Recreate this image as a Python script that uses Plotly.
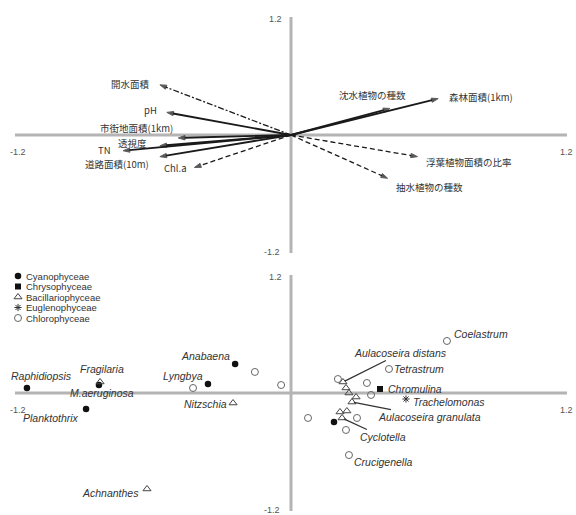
import plotly.graph_objects as go

# ---------------- environmental vectors (upper ordination) ----------------
env_names = ["開水面積", "pH", "市街地面積(1km)", "透視度", "TN", "道路面積(10m)", "Chl.a",
             "沈水植物の種数", "森林面積(1km)", "浮葉植物面積の比率", "抽水植物の種数"]
env_x = [-0.57, -0.54, -0.49, -0.57, -0.73, -0.57, -0.42, 0.43, 0.64, 0.55, 0.42]
env_y = [0.51, 0.23, -0.03, -0.11, -0.16, -0.22, -0.33, 0.27, 0.37, -0.22, -0.44]

# ---------------- phytoplankton taxa (lower ordination) ----------------
classes = ["Cyanophyceae", "Chrysophyceae", "Bacillariophyceae", "Euglenophyceae", "Chlorophyceae"]
taxa = ["Raphidiopsis", "M.aeruginosa", "Planktothrix", "Anabaena", "Lyngbya", "",
        "Chromulina",
        "Fragilaria", "Nitzschia", "Achnanthes", "Aulacoseira distans", "Aulacoseira granulata",
        "Cyclotella", "", "", "", "", "",
        "Trachelomonas",
        "Coelastrum", "Tetrastrum", "Crucigenella", "", "", "", "", "", "", "", "", ""]
taxon_class = (["Cyanophyceae"] * 6 + ["Chrysophyceae"] + ["Bacillariophyceae"] * 11
               + ["Euglenophyceae"] + ["Chlorophyceae"] * 12)
taxon_x = [-1.148, -0.835, -0.891, -0.243, -0.361, 0.187,
           0.387,
           -0.830, -0.252, -0.626, 0.226, 0.265, 0.222, 0.239, 0.252, 0.283, 0.213, 0.243,
           0.500,
           0.678, 0.426, 0.252, -0.426, -0.157, -0.043, 0.204, 0.330, 0.348, 0.074, 0.287, 0.239]
taxon_y = [0.051, 0.081, -0.163, 0.295, 0.092, -0.295,
           0.041,
           0.112, -0.102, -0.976, 0.112, -0.092, -0.254, 0.051, 0.000, -0.041, -0.193, -0.183,
           -0.061,
           0.529, 0.244, -0.631, 0.051, 0.214, 0.081, 0.142, 0.102, -0.020, -0.254, -0.254, -0.376]

AXIS_LIMIT = 1.2
tick_text = "1.2"
neg_tick_text = "-1.2"

# ---------------- styling ----------------
JP_FONT = "Noto Sans CJK JP"
LAT_FONT = "Liberation Sans"
AXIS_COLOR = "#b4b4b4"
TEXT_COLOR = "#333333"

env_dash = {"開水面積": "6px,2px,2px,2px", "Chl.a": "5px,3px",
            "浮葉植物面積の比率": "5px,3px", "抽水植物の種数": "5px,3px"}
# label placement: (xanchor, xshift px, yshift px)
env_label = {
    "開水面積": ("right", -8, 1), "pH": ("right", -8, 2),
    "市街地面積(1km)": ("right", -3, 10), "透視度": ("right", -11, 3),
    "TN": ("right", -10, 1), "道路面積(10m)": ("right", -9, -7),
    "Chl.a": ("right", -5, -1), "沈水植物の種数": ("center", -17, 13),
    "森林面積(1km)": ("left", 9, 2), "浮葉植物面積の比率": ("left", 6, -5),
    "抽水植物の種数": ("left", 6, -9),
}

class_marker = {
    "Cyanophyceae": dict(symbol="circle", size=6.5, color="#111111"),
    "Chrysophyceae": dict(symbol="square", size=6, color="#111111"),
    "Bacillariophyceae": dict(symbol="triangle-up-open", size=7, color="#444444", line=dict(width=1)),
    "Euglenophyceae": dict(symbol="asterisk-open", size=6, color="#333333", line=dict(width=1)),
    "Chlorophyceae": dict(symbol="circle-open", size=7, color="#666666", line=dict(width=1)),
}
taxon_label = {
    "Raphidiopsis": ("center", 15, 12), "Fragilaria": ("center", 2, 13),
    "M.aeruginosa": ("center", 3, -8), "Planktothrix": ("right", -5, -9),
    "Anabaena": ("right", -3, 8), "Lyngbya": ("right", -3, 8),
    "Nitzschia": ("right", -4, -1), "Achnanthes": ("right", -6, -4),
    "Coelastrum": ("left", 5, 7), "Tetrastrum": ("left", 3, 0),
    "Chromulina": ("left", 6, 0), "Trachelomonas": ("left", 5, -3),
    "Crucigenella": ("left", 3, -7),
}
# labels joined to their point by a leader line: (ax, ay) offset of text centre in px
taxon_leader = {
    "Aulacoseira distans": (58, -29),
    "Aulacoseira granulata": (78, 15),
    "Cyclotella": (41, 19),
}

W, H = 576, 515
fig = go.Figure()

# ---------------- upper panel: arrows ----------------
for name, ex, ey in zip(env_names, env_x, env_y):
    dash = env_dash.get(name, "solid")
    fig.add_trace(go.Scatter(
        x=[0, ex], y=[0, ey], mode="lines+markers", xaxis="x", yaxis="y",
        line=dict(color="#1a1a1a", width=1.9 if dash == "solid" else 1.3, dash=dash),
        marker=dict(symbol=["circle", "arrow"], size=[0, 7], angleref="previous",
                    color="#111111"),
        showlegend=False, hoverinfo="skip"))

annotations = []
for name, ex, ey in zip(env_names, env_x, env_y):
    anchor, dx, dy = env_label[name]
    annotations.append(dict(x=ex, y=ey, xref="x", yref="y", text=name, showarrow=False,
                            xanchor=anchor, yanchor="middle", xshift=dx, yshift=dy,
                            font=dict(family=JP_FONT, size=9.5, color=TEXT_COLOR)))

# ---------------- lower panel: taxa ----------------
for cls in classes:
    xs = [x for x, c in zip(taxon_x, taxon_class) if c == cls]
    ys = [y for y, c in zip(taxon_y, taxon_class) if c == cls]
    fig.add_trace(go.Scatter(x=xs, y=ys, mode="markers", xaxis="x2", yaxis="y2",
                             marker=class_marker[cls], showlegend=False, hoverinfo="skip"))

for name, tx, ty in zip(taxa, taxon_x, taxon_y):
    if not name:
        continue
    font = dict(family=LAT_FONT, size=10.5, color=TEXT_COLOR)
    if name in taxon_leader:
        ax, ay = taxon_leader[name]
        annotations.append(dict(x=tx, y=ty, xref="x2", yref="y2", text=f"<i>{name}</i>",
                                showarrow=True, arrowhead=0, arrowwidth=1.3,
                                arrowcolor="#333333", standoff=2, ax=ax, ay=ay, font=font))
    else:
        anchor, dx, dy = taxon_label[name]
        annotations.append(dict(x=tx, y=ty, xref="x2", yref="y2", text=f"<i>{name}</i>",
                                showarrow=False, xanchor=anchor, yanchor="middle",
                                xshift=dx, yshift=dy, font=font))

# ---------------- legend block (drawn on its own small axis) ----------------
for i, cls in enumerate(classes):
    fig.add_trace(go.Scatter(x=[18], y=[i], mode="markers", xaxis="x3", yaxis="y3",
                             marker=class_marker[cls], showlegend=False, hoverinfo="skip"))
    annotations.append(dict(x=24, y=i, xref="x3", yref="y3", text=cls, showarrow=False,
                            xanchor="left", yanchor="middle",
                            font=dict(family=LAT_FONT, size=9.5, color=TEXT_COLOR)))

# ---------------- cross axes and their end labels ----------------
shapes = []
for xr, yr in (("x", "y"), ("x2", "y2")):
    shapes.append(dict(type="line", xref=xr, yref=yr, x0=-AXIS_LIMIT, x1=AXIS_LIMIT, y0=0, y1=0,
                       line=dict(color=AXIS_COLOR, width=3), layer="below"))
    shapes.append(dict(type="line", xref=xr, yref=yr, x0=0, x1=0, y0=-AXIS_LIMIT, y1=AXIS_LIMIT,
                       line=dict(color=AXIS_COLOR, width=3), layer="below"))

tick_font = dict(family=LAT_FONT, size=9, color="#555555")
for xr, yr, side_shift in (("x", "y", -17), ("x2", "y2", -17)):
    annotations += [
        dict(x=0, y=AXIS_LIMIT, xref=xr, yref=yr, text=tick_text, showarrow=False,
             xanchor="right", yanchor="middle", xshift=-7, yshift=-2, font=tick_font),
        dict(x=0, y=-AXIS_LIMIT, xref=xr, yref=yr, text=neg_tick_text, showarrow=False,
             xanchor="right", yanchor="middle", xshift=-9, yshift=1, font=tick_font),
        dict(x=-AXIS_LIMIT, y=0, xref=xr, yref=yr, text=neg_tick_text, showarrow=False,
             xanchor="center", yanchor="middle", xshift=3, yshift=side_shift, font=tick_font),
        dict(x=AXIS_LIMIT, y=0, xref=xr, yref=yr, text=tick_text, showarrow=False,
             xanchor="center", yanchor="middle", xshift=-1, yshift=side_shift, font=tick_font),
    ]

# panel geometry: both panels share the same horizontal scale
split = 1 - 260 / H
x_range = [-1.2652, 1.2391]
hidden = dict(visible=False, fixedrange=True)

fig.update_layout(
    width=W, height=H, margin=dict(l=0, r=0, t=0, b=0),
    paper_bgcolor="white", plot_bgcolor="white", showlegend=False,
    xaxis=dict(domain=[0, 1], range=x_range, anchor="y", **hidden),
    yaxis=dict(domain=[split, 1], range=[-1.2712, 1.3729], anchor="x", **hidden),
    xaxis2=dict(domain=[0, 1], range=x_range, anchor="y2", **hidden),
    yaxis2=dict(domain=[0, split], range=[-1.2407, 1.3525], anchor="x2", **hidden),
    xaxis3=dict(domain=[0, 0.25], range=[0, 144], anchor="y3", **hidden),
    yaxis3=dict(domain=[1 - 330 / H, 1 - 265 / H], range=[5.143, -1.048], anchor="x3", **hidden),
    shapes=shapes, annotations=annotations,
)

fig.write_html("out.html")
